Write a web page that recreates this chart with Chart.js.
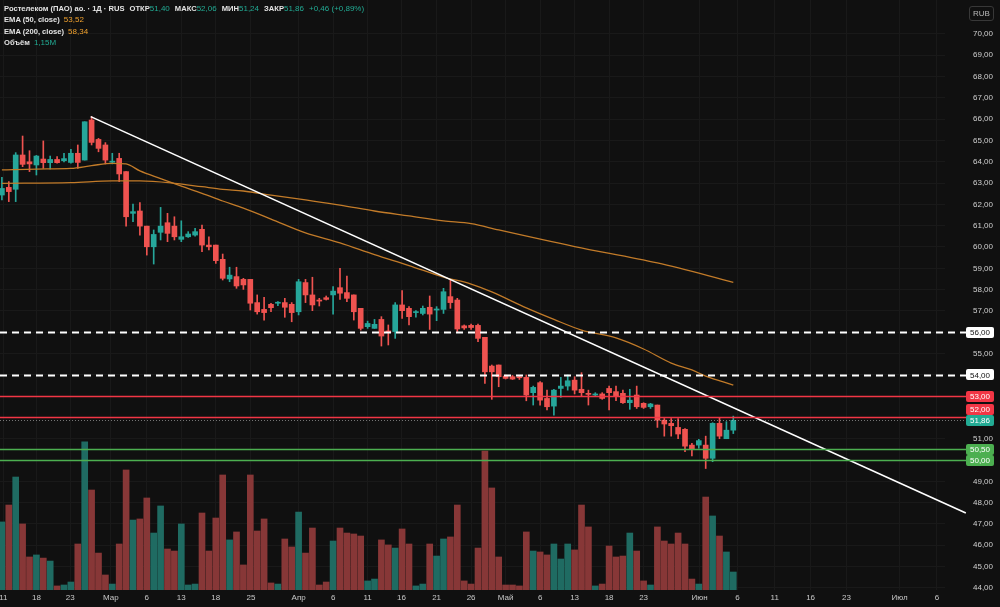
<!DOCTYPE html>
<html lang="ru">
<head>
  <meta charset="UTF-8">
  <title>Ростелеком (ПАО) ао. · 1Д · RUS</title>
  <script src="https://cdn.jsdelivr.net/npm/chart.js"></script>
  <style>
    * {
      box-sizing: border-box;
      margin: 0;
      padding: 0;
    }

    body {
      width: 1000px;
      height: 607px;
      overflow: hidden;
      background: #101010;
      font-family: 'Liberation Sans', Arial, sans-serif;
    }

    .wrap {
      position: relative;
      width: 1000px;
      height: 607px;
    }

    .legend {
      position: absolute;
      left: 4px;
      top: 3px;
      font-size: 7.6px;
      font-weight: bold;
      line-height: 11.3px;
      color: #e4e4e4;
      white-space: nowrap;
    }

    .legend .gap { margin-left: 5px; }
    .legend .up { color: #22ab94; font-weight: normal; font-size: 8px; }
    .legend .ema { color: #f0a12e; margin-left: 4px; font-weight: normal; font-size: 8px; }
    .legend .vol { color: #22ab94; margin-left: 4px; font-weight: normal; font-size: 8px; }

    .rub {
      position: absolute;
      left: 969px;
      top: 6px;
      width: 25px;
      height: 15px;
      border: 1px solid #383838;
      border-radius: 3px;
      color: #b8b8b8;
      font-size: 8px;
      line-height: 13px;
      text-align: center;
    }
  </style>
</head>
<body>
  <div class="wrap">
    <canvas id="chart" width="1000" height="607"></canvas>
    <div class="legend">
      <div>Ростелеком (ПАО) ао. · 1Д · RUS<span class="gap">ОТКР</span><span class="up" id="vOpen"></span><span class="gap">МАКС</span><span class="up" id="vHigh"></span><span class="gap">МИН</span><span class="up" id="vLow"></span><span class="gap">ЗАКР</span><span class="up" id="vClose"></span><span class="gap up" id="vChange"></span></div>
      <div>EMA (50, close)<span class="ema" id="vEma50"></span></div>
      <div>EMA (200, close)<span class="ema" id="vEma200"></span></div>
      <div>Объём<span class="vol" id="vVol"></span></div>
    </div>
    <div class="rub">RUB</div>
  </div>

  <script>
    // daily candles, oldest first
    const opens = [62.44, 62.80, 62.71, 64.32, 64.00, 63.85, 64.13, 63.96, 64.11, 64.05,
      63.97, 64.40, 64.08, 65.96, 65.05, 64.79, 63.98, 64.16, 63.54, 61.58,
      61.69, 60.98, 60.01, 60.69, 61.14, 60.98, 60.36, 60.48, 60.56, 60.83,
      60.09, 60.09, 59.42, 58.50, 58.61, 58.48, 58.48, 57.39, 57.07, 57.31,
      57.36, 57.39, 57.31, 56.96, 58.33, 57.75, 57.51, 57.62, 57.75, 58.09,
      57.86, 57.75, 57.12, 56.26, 56.18, 56.60, 56.06, 56.03, 57.28, 57.12,
      56.92, 56.88, 57.17, 57.04, 57.07, 57.67, 57.51, 56.30, 56.32, 56.32,
      55.76, 54.41, 54.46, 53.94, 53.91, 53.91, 53.88, 53.16, 53.63, 52.89,
      52.53, 53.36, 53.47, 53.75, 53.32, 53.13, 53.05, 53.10, 53.36, 53.21,
      53.13, 52.69, 53.05, 52.66, 52.50, 52.58, 51.87, 51.72, 51.53, 51.44,
      50.70, 50.70, 50.70, 50.08, 51.72, 51.00, 51.40];
    const highs = [63.27, 63.07, 64.43, 65.21, 64.52, 64.30, 64.98, 64.27, 64.24, 64.40,
      64.58, 64.79, 65.88, 66.12, 65.10, 64.90, 64.40, 64.40, 63.54, 62.02,
      62.08, 60.98, 60.80, 61.86, 61.58, 61.42, 61.23, 60.72, 60.88, 61.03,
      60.48, 60.09, 59.67, 59.05, 59.05, 58.53, 58.48, 57.75, 57.64, 57.36,
      57.44, 57.59, 57.39, 58.48, 58.48, 58.58, 57.59, 57.70, 58.14, 59.00,
      58.64, 57.75, 57.12, 56.52, 56.60, 56.73, 56.34, 57.39, 57.95, 57.20,
      57.01, 57.23, 57.70, 57.20, 58.06, 58.45, 57.59, 56.34, 56.38, 56.38,
      55.76, 54.46, 54.46, 53.99, 53.97, 53.94, 53.99, 53.47, 53.68, 53.28,
      53.32, 53.88, 53.99, 53.91, 54.10, 53.28, 53.16, 53.16, 53.47, 53.47,
      53.28, 53.32, 53.47, 52.69, 52.66, 52.58, 51.95, 51.95, 51.95, 51.48,
      50.78, 50.97, 51.12, 51.75, 52.00, 51.80, 52.06];
    const lows = [62.21, 62.13, 62.13, 63.77, 63.54, 63.38, 63.69, 63.66, 63.93, 64.00,
      63.93, 63.69, 64.08, 64.79, 64.47, 63.90, 63.90, 63.07, 60.98, 61.19,
      60.56, 59.62, 59.20, 60.33, 60.25, 60.33, 60.25, 60.45, 60.51, 59.78,
      59.86, 59.23, 58.45, 58.37, 58.06, 58.01, 57.04, 56.85, 56.57, 56.96,
      57.25, 56.70, 56.49, 56.81, 57.39, 57.01, 57.23, 57.51, 56.85, 57.54,
      57.43, 56.57, 56.10, 56.18, 56.18, 55.35, 55.40, 55.71, 56.65, 56.34,
      56.70, 56.81, 56.13, 56.54, 56.88, 57.12, 56.03, 56.13, 56.13, 55.55,
      53.60, 52.85, 53.44, 53.80, 53.78, 53.78, 52.78, 52.58, 52.58, 52.35,
      52.11, 52.94, 53.28, 53.10, 53.00, 52.58, 53.00, 52.85, 52.35, 52.78,
      52.66, 52.38, 52.42, 52.42, 52.42, 51.53, 51.12, 51.12, 51.00, 50.39,
      50.19, 50.55, 49.60, 49.92, 51.00, 51.00, 51.24];
    const closes = [62.75, 62.60, 64.32, 63.88, 63.90, 64.27, 63.96, 64.11, 63.96, 64.15,
      64.40, 63.97, 65.88, 64.91, 64.63, 64.08, 64.03, 63.43, 61.42, 61.66,
      60.98, 60.01, 60.59, 60.98, 60.64, 60.48, 60.48, 60.61, 60.72, 60.09,
      60.01, 59.36, 58.53, 58.68, 58.17, 58.22, 57.36, 56.96, 56.92, 57.15,
      57.39, 57.17, 56.92, 58.37, 57.75, 57.28, 57.46, 57.54, 57.93, 57.83,
      57.59, 56.96, 56.18, 56.41, 56.37, 55.82, 55.98, 57.28, 57.01, 56.73,
      56.96, 57.12, 56.85, 57.09, 57.90, 57.39, 56.15, 56.20, 56.22, 55.71,
      54.14, 54.14, 53.91, 53.83, 53.80, 53.86, 53.05, 53.41, 52.81, 52.50,
      53.28, 53.47, 53.72, 53.28, 53.16, 53.08, 53.10, 52.89, 53.16, 53.00,
      52.69, 52.81, 52.50, 52.47, 52.63, 51.87, 51.69, 51.61, 51.22, 50.65,
      50.50, 50.91, 50.08, 51.72, 51.12, 51.40, 51.86];
    // volume, millions of shares
    const volumes = [4.35, 5.43, 7.22, 4.22, 2.11, 2.24, 2.04, 1.85, 0.26, 0.32,
      0.51, 2.94, 9.46, 6.39, 2.36, 0.96, 0.38, 2.94, 7.67, 4.47,
      4.54, 5.88, 3.64, 5.37, 2.62, 2.49, 4.22, 0.32, 0.38, 4.92,
      2.49, 4.60, 7.35, 3.20, 3.71, 1.60, 7.35, 3.77, 4.54, 0.45,
      0.38, 3.26, 2.75, 4.98, 2.36, 3.96, 0.32, 0.51, 3.13, 3.96,
      3.64, 3.58, 3.45, 0.58, 0.70, 3.20, 2.88, 2.68, 3.90, 2.94,
      0.26, 0.38, 2.94, 2.17, 3.26, 3.39, 5.43, 0.58, 0.38, 2.68,
      8.88, 6.52, 2.11, 0.32, 0.32, 0.26, 3.71, 2.49, 2.43, 2.24,
      2.94, 1.98, 2.94, 2.56, 5.43, 4.03, 0.26, 0.38, 2.81, 2.11,
      2.17, 3.64, 2.49, 0.58, 0.32, 4.03, 3.13, 2.94, 3.64, 2.94,
      0.70, 0.38, 5.94, 4.73, 3.45, 2.43, 1.15];

    // indicator readings (bar index -> value)
    const ema50Bars = [0, 5, 10, 13, 16, 18, 20, 23, 26, 29, 32, 35, 39, 44, 49, 54, 59, 64, 68, 71, 76, 80, 84, 89, 93, 97, 100, 102, 106];
    const ema50 = [63.62, 63.66, 63.69, 63.82, 63.93, 63.90, 63.57, 63.21, 62.86, 62.52, 62.16, 61.82, 61.31, 60.66, 60.19, 59.64, 59.13, 58.59, 58.26, 57.89, 57.14, 56.60, 56.10, 55.73, 55.21, 54.55, 54.23, 53.94, 53.52];
    const ema200Bars = [0, 10, 16, 20, 25, 29, 32, 35, 39, 44, 49, 54, 59, 64, 68, 72, 83, 95, 106];
    const ema200 = [62.99, 63.02, 63.10, 63.10, 62.99, 62.83, 62.71, 62.63, 62.44, 62.21, 61.97, 61.69, 61.46, 61.23, 61.10, 60.80, 60.02, 59.25, 58.34];

    // drawn trend line and horizontal levels
    const trendBars = [12.87, 139.7];
    const trendPrices = [66.12, 47.51];
    const dashedLevels = [56, 54];
    const resistanceLevels = [53, 52];
    const supportLevels = [50.5, 50];

    const priceTicks = [44, 45, 46, 47, 48, 49, 50, 51, 52, 53, 54, 55, 56, 57, 58, 59, 60, 61, 62, 63, 64, 65, 66, 67, 68, 69, 70];
    const dateTicks = [0.2, 5, 9.9, 15.8, 21, 26, 31, 36.1, 43, 48, 53, 57.9, 63, 68, 73, 78, 83, 88, 93, 101.1, 106.6, 112, 117.2, 122.4, 130.1, 135.5];
    const dateLabels = ['11', '18', '23', 'Мар', '6', '13', '18', '25', 'Апр', '6', '11', '16', '21', '26', 'Май', '6', '13', '18', '23', 'Июн', '6', '11', '16', '23', 'Июл', '6'];

    const upColor = '#26a69a';
    const downColor = '#ef5350';
    const gridColor = '#191919';
    const fmt = v => v.toFixed(2).replace('.', ',');

    const last = closes.length - 1;
    const isUp = closes.map((c, i) => c >= opens[i]);
    const candleColors = isUp.map(u => u ? upColor : downColor);
    const volumeColors = isUp.map(u => u ? '#1f6b62' : '#873737');
    const bars = closes.map((c, i) => i);

    // legend values
    const change = closes[last] - closes[last - 1];
    document.getElementById('vOpen').textContent = fmt(opens[last]);
    document.getElementById('vHigh').textContent = fmt(highs[last]);
    document.getElementById('vLow').textContent = fmt(lows[last]);
    document.getElementById('vClose').textContent = fmt(closes[last]);
    document.getElementById('vChange').textContent = '+' + fmt(change) + ' (+' + fmt(change / closes[last - 1] * 100) + '%)';
    document.getElementById('vEma50').textContent = fmt(ema50[ema50.length - 1]);
    document.getElementById('vEma200').textContent = fmt(ema200[ema200.length - 1]);
    document.getElementById('vVol').textContent = fmt(volumes[last]).replace(/0$/, '') + 'M';

    const levelPlugin = {
      id: 'levels',
      afterDatasetsDraw(chart) {
        const { ctx, chartArea } = chart;
        const y = chart.scales.y;
        const endX = chart.width - 34;
        const drawLevel = (v, color, width, dash) => {
          const py = Math.round(y.getPixelForValue(v)) + 0.5;
          ctx.save();
          ctx.strokeStyle = color;
          ctx.lineWidth = width;
          ctx.setLineDash(dash);
          ctx.beginPath();
          ctx.moveTo(chartArea.left, py);
          ctx.lineTo(endX, py);
          ctx.stroke();
          ctx.restore();
        };
        drawLevel(closes[last], 'rgba(200,200,200,0.55)', 1, [1, 2]);
        dashedLevels.forEach(v => drawLevel(v, '#ffffff', 2, [7, 5]));
        resistanceLevels.forEach(v => drawLevel(v, '#f23645', 1.5, []));
        supportLevels.forEach(v => drawLevel(v, '#4caf50', 1.5, []));
      },
      afterDraw(chart) {
        const { ctx } = chart;
        const y = chart.scales.y;
        const left = chart.width - 34;
        const w = 28, h = 11;
        const boxes = [{ v: closes[last], fill: '#22ab94', text: '#ffffff' }];
        resistanceLevels.forEach(v => boxes.push({ v, fill: '#f23645', text: '#ffffff' }));
        dashedLevels.forEach(v => boxes.push({ v, fill: '#ffffff', text: '#111111' }));
        supportLevels.forEach(v => boxes.push({ v, fill: '#4caf50', text: '#ffffff' }));
        const placed = [];
        boxes.forEach(b => {
          let py = y.getPixelForValue(b.v);
          placed.forEach(p => {
            if (Math.abs(py - p.py) < h) py = py <= p.py ? p.py - h : p.py + h;
          });
          b.py = py;
          placed.push(b);
        });
        ctx.save();
        ctx.font = "8px 'Liberation Sans', Arial, sans-serif";
        ctx.textAlign = 'center';
        ctx.textBaseline = 'middle';
        boxes.forEach(b => {
          ctx.fillStyle = b.fill;
          ctx.beginPath();
          ctx.roundRect(left, Math.round(b.py - h / 2), w, h, 2);
          ctx.fill();
          ctx.fillStyle = b.text;
          ctx.fillText(fmt(b.v), left + w / 2, b.py + 0.5);
        });
        ctx.restore();
      }
    };

    Chart.defaults.font.family = "'Liberation Sans', Arial, sans-serif";
    Chart.defaults.font.size = 8;
    Chart.defaults.color = '#d0d0d0';

    const hiddenTicks = [...dashedLevels, ...resistanceLevels, ...supportLevels];

    new Chart(document.getElementById('chart'), {
      data: {
        datasets: [
          {
            type: 'line',
            label: 'Trend',
            data: trendBars.map((x, i) => ({ x, y: trendPrices[i] })),
            borderColor: '#ffffff',
            borderWidth: 1.6,
            pointRadius: 0,
            clip: false,
            order: 0
          },
          {
            type: 'line',
            label: 'EMA (50, close)',
            data: ema50Bars.map((x, i) => ({ x, y: ema50[i] })),
            borderColor: '#c27b29',
            borderWidth: 1.3,
            pointRadius: 0,
            cubicInterpolationMode: 'monotone',
            order: 1
          },
          {
            type: 'line',
            label: 'EMA (200, close)',
            data: ema200Bars.map((x, i) => ({ x, y: ema200[i] })),
            borderColor: '#c27b29',
            borderWidth: 1.3,
            pointRadius: 0,
            cubicInterpolationMode: 'monotone',
            order: 1
          },
          {
            type: 'bar',
            label: 'Body',
            data: bars.map(i => ({ x: i, y: [opens[i], closes[i]] })),
            backgroundColor: candleColors,
            barThickness: 5,
            minBarLength: 1,
            grouped: false,
            order: 2
          },
          {
            type: 'bar',
            label: 'Wick',
            data: bars.map(i => ({ x: i, y: [lows[i], highs[i]] })),
            backgroundColor: candleColors,
            barThickness: 1,
            grouped: false,
            order: 3
          },
          {
            type: 'bar',
            label: 'Объём',
            data: bars.map(i => ({ x: i, y: volumes[i] })),
            yAxisID: 'yVol',
            backgroundColor: volumeColors,
            barThickness: 6,
            grouped: false,
            order: 4
          }
        ]
      },
      options: {
        responsive: false,
        animation: false,
        layout: { padding: 0 },
        plugins: {
          legend: { display: false },
          tooltip: { enabled: false }
        },
        scales: {
          x: {
            type: 'linear',
            min: -0.275,
            max: 136.68,
            offset: false,
            grid: { color: gridColor, drawTicks: false, offset: false },
            border: { display: false },
            ticks: {
              autoSkip: false,
              maxRotation: 0,
              padding: 3,
              color: '#c8c8c8',
              callback: (v, i) => dateLabels[i]
            },
            afterBuildTicks: s => { s.ticks = dateTicks.map(v => ({ value: v })); },
            afterFit: s => { s.height = 17; s.paddingLeft = 0; s.paddingRight = 0; }
          },
          y: {
            type: 'linear',
            position: 'right',
            min: 43.897,
            max: 71.596,
            grid: { color: gridColor, drawTicks: false },
            border: { display: false },
            ticks: {
              padding: 28,
              color: '#d0d0d0',
              callback: v => hiddenTicks.includes(v) ? '' : fmt(v)
            },
            afterBuildTicks: s => { s.ticks = priceTicks.map(v => ({ value: v })); },
            afterFit: s => { s.width = 55; s.paddingTop = 0; s.paddingBottom = 0; }
          },
          yVol: {
            type: 'linear',
            display: false,
            min: 0,
            max: 37.7
          }
        }
      },
      plugins: [levelPlugin]
    });
  </script>
</body>
</html>
